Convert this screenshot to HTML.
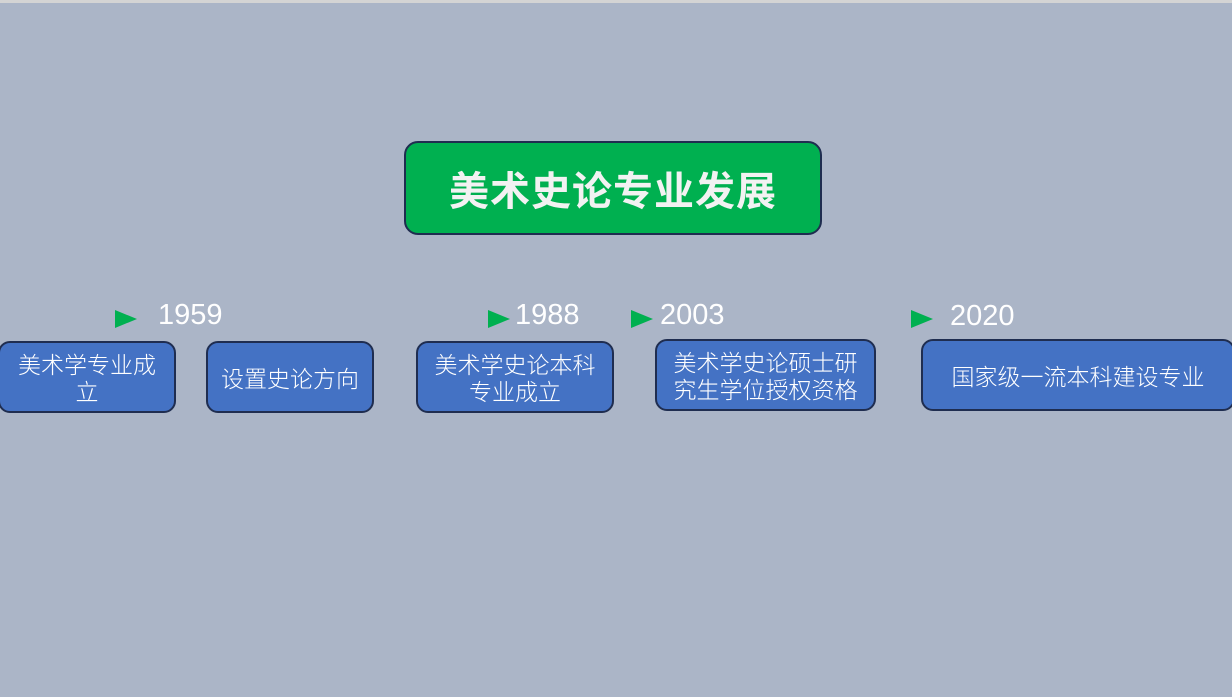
<!DOCTYPE html>
<html><head><meta charset="utf-8"><style>
html,body{margin:0;padding:0}
body{width:1232px;height:697px;background:#abb5c7;position:relative;overflow:hidden;font-family:"Liberation Sans","Noto Sans CJK SC",sans-serif}
.top{position:absolute;left:0;top:0;width:1232px;height:3px;background:#d4d4d4}
.b{position:absolute;box-sizing:border-box;background:#4472c4;border:2px solid #1f2d50;border-radius:12px;color:#fff;font-size:23px;line-height:27px;display:flex;align-items:center;justify-content:center;text-align:center;font-family:"Noto Sans CJK SC",sans-serif;font-weight:300}
.t{position:absolute;left:404px;top:141px;width:418px;height:94px;box-sizing:border-box;background:#00b050;border:2px solid #1f2d50;border-radius:14px;color:#f2f2f2;font-size:40px;font-weight:bold;display:flex;align-items:center;justify-content:center;font-family:"Noto Sans CJK SC",sans-serif;letter-spacing:1px}
.y{position:absolute;color:#fff;font-size:29px;line-height:30px}
.a{position:absolute;width:0;height:0;border-top:9px solid transparent;border-bottom:9px solid transparent;border-left:22px solid #00b050}
</style></head><body>
<div class="top"></div>
<div class="t">美术史论专业发展</div>
<div class="a" style="left:115px;top:310px"></div><div class="y" style="left:158px;top:300px">1959</div>
<div class="a" style="left:488px;top:310px"></div><div class="y" style="left:515px;top:300px">1988</div>
<div class="a" style="left:631px;top:310px"></div><div class="y" style="left:660px;top:300px">2003</div>
<div class="a" style="left:911px;top:310px"></div><div class="y" style="left:950px;top:301px">2020</div>
<div class="b" style="left:-2px;top:341px;width:178px;height:72px">美术学专业成<br>立</div>
<div class="b" style="left:206px;top:341px;width:168px;height:72px">设置史论方向</div>
<div class="b" style="left:416px;top:341px;width:198px;height:72px">美术学史论本科<br>专业成立</div>
<div class="b" style="left:655px;top:339px;width:221px;height:72px">美术学史论硕士研<br>究生学位授权资格</div>
<div class="b" style="left:921px;top:339px;width:314px;height:72px">国家级一流本科建设专业</div>
</body></html>
